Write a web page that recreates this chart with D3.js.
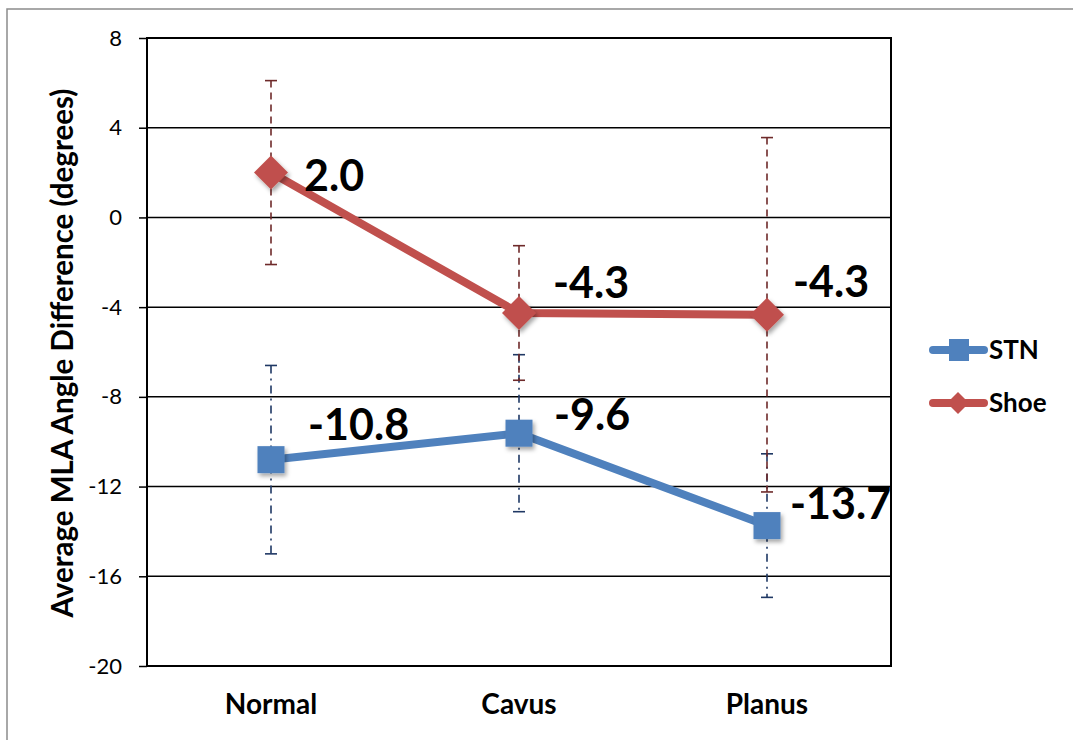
<!DOCTYPE html>
<html>
<head>
<meta charset="utf-8">
<script src="https://cdn.jsdelivr.net/npm/d3@7"></script>
<style>
  html, body { margin: 0; padding: 0; background: #fff; }
  svg { display: block; font-family: Lato, "Open Sans", sans-serif; }
</style>
</head>
<body>
<svg id="chart" width="1073" height="740"></svg>
<script>
// Foot types along the x axis
const categories = ["Normal", "Cavus", "Planus"];
// Mean MLA angle difference (degrees)
const stnValues = [-10.8, -9.62, -13.74];
const shoeValues = [2.0, -4.26, -4.34];
// Standard deviations used for the error bars
const stnErrors = [4.2, 3.5, 3.2];
const shoeErrors = [4.1, 3.0, 7.9];
// Y axis ticks
const yTicks = [8, 4, 0, -4, -8, -12, -16, -20];

const seriesNames = ["STN", "Shoe"];

const svg = d3.select("#chart");
const W = 1073, H = 740;

// outer frame
svg.append("rect")
  .attr("x", 7).attr("y", 9).attr("width", W).attr("height", H)
  .attr("fill", "none").attr("stroke", "#8c8c8c").attr("stroke-width", 1.5);

const plot = { left: 147, top: 38, right: 891, bottom: 666 };

const x = d3.scaleBand().domain(categories)
  .range([plot.left, plot.right]).paddingInner(0).paddingOuter(0);
const cx = c => x(c) + x.bandwidth() / 2;
const y = d3.scaleLinear().domain([-20, 8]).range([plot.bottom, plot.top]);

// drop shadow for markers
const defs = svg.append("defs");
const f = defs.append("filter").attr("id", "shadow")
  .attr("x", "-50%").attr("y", "-50%").attr("width", "200%").attr("height", "200%");
f.append("feDropShadow").attr("dx", 2).attr("dy", 3).attr("stdDeviation", 2)
  .attr("flood-color", "#000").attr("flood-opacity", 0.35);

// horizontal gridlines
svg.append("g").selectAll("line").data(yTicks).join("line")
  .attr("x1", plot.left).attr("x2", plot.right)
  .attr("y1", d => y(d)).attr("y2", d => y(d))
  .attr("stroke", "#000").attr("stroke-width", 1.5);

// y axis
const yAxis = svg.append("g")
  .attr("transform", `translate(${plot.left},0)`)
  .call(d3.axisLeft(y).tickValues(yTicks).tickSize(8).tickPadding(17)
        .tickFormat(d3.format("d")));
yAxis.select(".domain").remove();
yAxis.selectAll(".tick line").attr("stroke", "#000").attr("stroke-width", 1.5);
yAxis.selectAll(".tick text")
  .attr("font-size", 22).attr("font-family", "Lato, sans-serif").attr("fill", "#000")
  .text(d => d < 0 ? "-" + Math.abs(d) : d);

// x axis labels
const xAxis = svg.append("g")
  .attr("transform", `translate(0,${plot.bottom})`)
  .call(d3.axisBottom(x).tickSize(0).tickPadding(28));
xAxis.select(".domain").remove();
xAxis.selectAll(".tick text")
  .attr("font-size", 28).attr("font-weight", "bold")
  .attr("font-family", "Lato, sans-serif").attr("fill", "#000");

// plot frame
svg.append("rect")
  .attr("x", plot.left).attr("y", plot.top)
  .attr("width", plot.right - plot.left).attr("height", plot.bottom - plot.top)
  .attr("fill", "none").attr("stroke", "#000").attr("stroke-width", 2);

// y axis title
svg.append("text")
  .attr("transform", `translate(73,${(plot.top + plot.bottom) / 2 + 1}) rotate(-90)`)
  .attr("text-anchor", "middle")
  .attr("font-size", 29.5).attr("font-weight", "bold").attr("fill", "#000")
  .text("Average MLA Angle Difference (degrees)");

const series = [
  { name: seriesNames[0], values: stnValues, errors: stnErrors,
    color: "#4F81BD", errColor: "#1F3864", dash: "8,5,2,5", marker: "square" },
  { name: seriesNames[1], values: shoeValues, errors: shoeErrors,
    color: "#C0504D", errColor: "#6E2A2A", dash: "7,5", marker: "diamond" }
];

// error bars
series.forEach(s => {
  const g = svg.append("g");
  categories.forEach((c, i) => {
    const hi = y(s.values[i] + s.errors[i]);
    const lo = y(s.values[i] - s.errors[i]);
    g.append("line")
      .attr("x1", cx(c)).attr("x2", cx(c)).attr("y1", hi).attr("y2", lo)
      .attr("stroke", s.errColor).attr("stroke-width", 1.6)
      .attr("stroke-dasharray", s.dash);
    [hi, lo].forEach(yy => g.append("line")
      .attr("x1", cx(c) - 6).attr("x2", cx(c) + 6).attr("y1", yy).attr("y2", yy)
      .attr("stroke", s.errColor).attr("stroke-width", 1.6));
  });
});

const line = d3.line().x(d => cx(d.c)).y(d => y(d.v));

function drawMarker(g, type, color, px, py) {
  if (type === "square") {
    g.append("rect").attr("x", px - 13.5).attr("y", py - 13.5)
      .attr("width", 27).attr("height", 27).attr("fill", color)
      .attr("filter", "url(#shadow)");
  } else {
    g.append("path")
      .attr("d", `M${px},${py - 17}L${px + 17},${py}L${px},${py + 17}L${px - 17},${py}Z`)
      .attr("fill", color).attr("filter", "url(#shadow)");
  }
}

// series lines and markers
series.forEach(s => {
  const pts = categories.map((c, i) => ({ c, v: s.values[i] }));
  svg.append("path").datum(pts)
    .attr("d", line).attr("fill", "none")
    .attr("stroke", s.color).attr("stroke-width", 8)
    .attr("stroke-linejoin", "round");
  const g = svg.append("g");
  pts.forEach(p => drawMarker(g, s.marker, s.color, cx(p.c), y(p.v)));
});

// data labels, nudged off the markers
const labelNudge = [
  [[37, -20], [35, -3], [23, -7]],   // STN
  [[33, 18], [34, -15], [26, -18]]   // Shoe
];
series.forEach((s, si) => {
  categories.forEach((c, i) => {
    svg.append("text")
      .attr("x", cx(c) + labelNudge[si][i][0])
      .attr("y", y(s.values[i]) + labelNudge[si][i][1])
      .attr("font-size", 43).attr("font-weight", "bold").attr("fill", "#000")
      .text(s.values[i].toFixed(1));
  });
});

// legend
const legend = svg.append("g");
series.forEach((s, i) => {
  const ly = 350 + i * 53;
  legend.append("line")
    .attr("x1", 933).attr("x2", 984).attr("y1", ly).attr("y2", ly)
    .attr("stroke", s.color).attr("stroke-width", 8).attr("stroke-linecap", "round");
  if (s.marker === "square") {
    legend.append("rect").attr("x", 949).attr("y", ly - 11)
      .attr("width", 20).attr("height", 22).attr("fill", s.color);
  } else {
    legend.append("path")
      .attr("d", `M958,${ly - 11}L969,${ly}L958,${ly + 11}L947,${ly}Z`)
      .attr("fill", s.color);
  }
  legend.append("text")
    .attr("x", 989).attr("y", ly + 9)
    .attr("font-size", 26).attr("font-weight", "bold").attr("fill", "#000")
    .text(s.name);
});
</script>
</body>
</html>
